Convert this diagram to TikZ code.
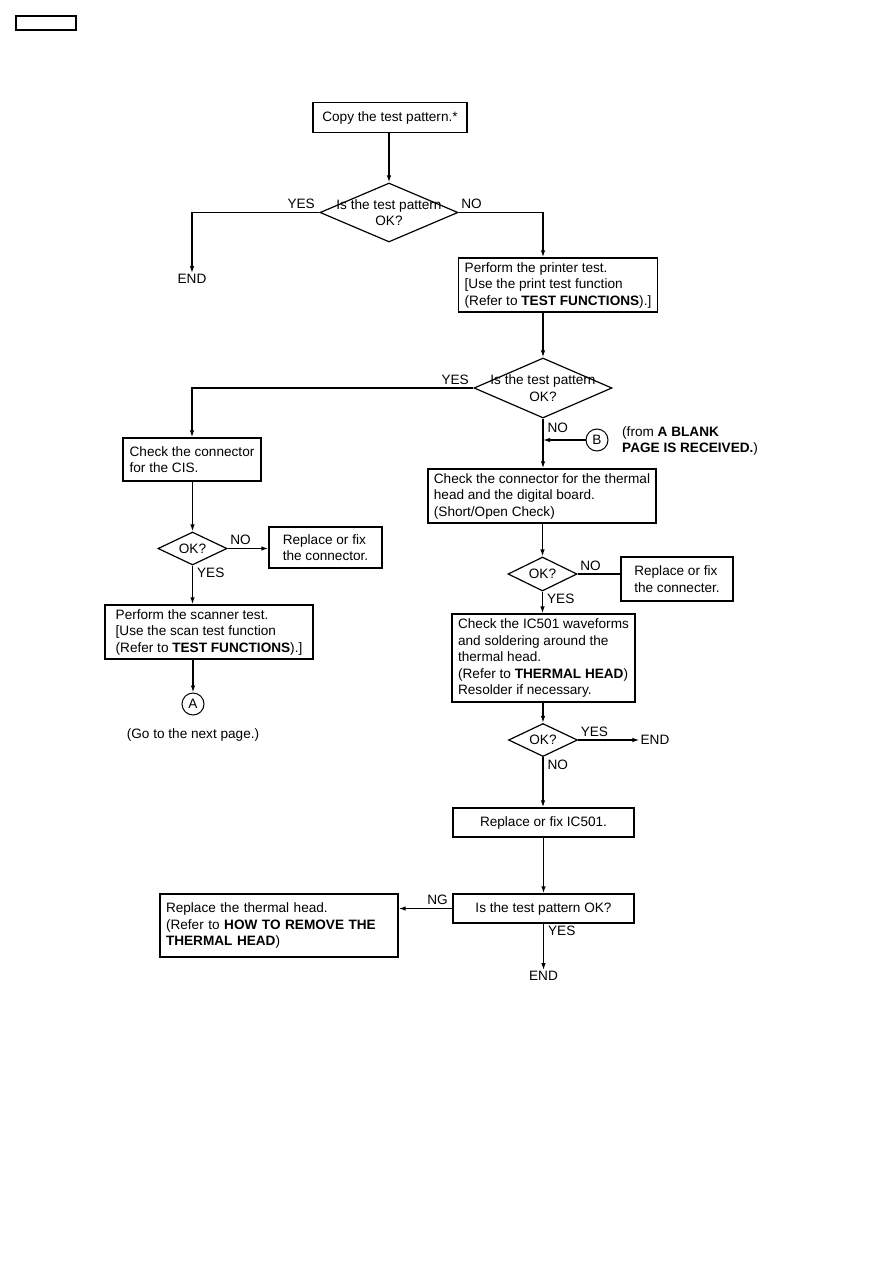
\documentclass[tikz,border=0pt]{standalone}
\usepackage{fontspec}
\setmainfont{Liberation Sans}
\usetikzlibrary{arrows.meta, shapes.geometric}
\newcommand{\flowfont}{\fontsize{13.6}{16.5}\selectfont}
\tikzset{
  procbox/.style={draw, line width=1.3pt, align=left, inner xsep=6pt, inner ysep=3pt, font=\flowfont},
  midbox/.style={draw, line width=1.3pt, align=center, inner sep=3pt, font=\flowfont},
  decision/.style={draw, diamond, line width=1.2pt, inner sep=0pt},
  pagelink/.style={draw, circle, line width=1pt, minimum size=22pt, inner sep=0pt, font=\flowfont},
  lbl/.style={inner sep=1pt, font=\flowfont, align=center},
  arrow/.style={-{Latex[length=7pt, width=4.5pt]}, line width=1.3pt},
  plainline/.style={line width=1.3pt}
}
\begin{document}
\begin{tikzpicture}[x=1pt, y=-1pt]
\useasboundingbox (0,0) rectangle (893,1263);

\node[draw, line width=1.3pt, minimum width=60pt, minimum height=14pt] (pagetag) at (46,23) {};

% top of the flow
\node[midbox, minimum width=154pt, minimum height=30pt] (copy) at (390,117.5) {Copy the test pattern.*};
\node[decision, minimum width=138pt, minimum height=59pt,
  label={[lbl]center:Is the test pattern\\OK?}] (q1) at (389,212.5) {};
\node[lbl] (end1) at (192,279) {END};
\node[procbox, minimum width=198pt, minimum height=54pt] (print) at (558,285)
  {Perform the printer test.\\{[}Use the print test function\\(Refer to \textbf{TEST FUNCTIONS}).]};
\node[decision, minimum width=138pt, minimum height=60pt,
  label={[lbl]center:Is the test pattern\\OK?}] (q2) at (543,388) {};

% left branch (CIS)
\node[procbox, minimum width=138pt, minimum height=43pt] (cis) at (192,459.5) {Check the connector\\for the CIS.};
\node[decision, minimum width=69pt, minimum height=33pt,
  label={[lbl]center:OK?}] (qcis) at (192.5,548.5) {};
\node[procbox, minimum width=113pt, minimum height=41pt] (fixcon) at (325.5,547.5) {Replace or fix\\the connector.};
\node[procbox, minimum width=208pt, minimum height=54pt] (scan) at (209,632)
  {Perform the scanner test.\\{[}Use the scan test function\\(Refer to \textbf{TEST FUNCTIONS}).]};
\node[pagelink] (linkA) at (193,704) {A};
\node[lbl] (gonext) at (193,735) {(Go to the next page.)};

% right branch (thermal head)
\node[pagelink] (linkB) at (597,440) {B};
\node[lbl, anchor=west, align=left] (fromB) at (621,441) {(from \textbf{A BLANK}\\\textbf{PAGE IS RECEIVED.})};
\node[procbox, minimum width=226pt, minimum height=54pt] (thermcon) at (542,496)
  {Check the connector for the thermal\\head and the digital board.\\(Short/Open Check)};
\node[decision, minimum width=69pt, minimum height=34pt,
  label={[lbl]center:OK?}] (q3) at (542.5,574) {};
\node[procbox, minimum width=112pt, minimum height=44pt] (fixcon2) at (677,579) {Replace or fix\\the connecter.};
\node[procbox, minimum width=181pt, minimum height=88pt] (icwave) at (543.5,658)
  {Check the IC501 waveforms\\and soldering around the\\thermal head.\\(Refer to \textbf{THERMAL HEAD})\\Resolder if necessary.};
\node[decision, minimum width=69pt, minimum height=33pt,
  label={[lbl]center:OK?}] (q4) at (543,740) {};
\node[lbl] (end2) at (655,740) {END};
\node[midbox, minimum width=181pt, minimum height=29pt] (fixic) at (543.5,822.5) {Replace or fix IC501.};
\node[midbox, minimum width=181pt, minimum height=29pt] (qok) at (543.5,908.5) {Is the test pattern OK?};
\node[procbox, text width=226pt, minimum height=63pt] (head) at (279,925.5)
  {Replace the thermal head.\\(Refer to \textbf{HOW TO REMOVE THE}\\\textbf{THERMAL HEAD})};
\node[lbl] (end3) at (543.5,976) {END};

% connectors
\draw[arrow] (q1.north |- copy.south) -- (q1.north);
\draw[arrow] (q1.west) node[lbl, anchor=south east, xshift=-3pt, yshift=2pt]{YES} -| (end1.north);
\draw[arrow] (q1.east) node[lbl, anchor=south west, xshift=1pt, yshift=2pt]{NO} -| (q2.north |- print.north);
\draw[arrow] (q2.north |- print.south) -- (q2.north);
\draw[arrow] (q2.west) node[lbl, anchor=south east, xshift=-3pt, yshift=2pt]{YES} -| (cis.north);
\draw[arrow] (q2.south) node[lbl, anchor=north west, xshift=3pt, yshift=-3pt]{NO} -- (q2.south |- thermcon.north);
\draw[arrow] (linkB.west) -- (q2.south |- linkB.west);
\draw[arrow] (q3.north |- thermcon.south) -- (q3.north);
\draw[arrow] (cis.south -| qcis.north) -- (qcis.north);
\draw[arrow] (qcis.east) node[lbl, anchor=south west, xshift=1pt, yshift=2pt]{NO} -- (qcis.east -| fixcon.west);
\draw[arrow] (qcis.south) node[lbl, anchor=north west, xshift=3pt, yshift=-1pt]{YES} -- (qcis.south |- scan.north);
\draw[arrow] (linkA.north |- scan.south) -- (linkA.north);
\draw[plainline] (q3.east) node[lbl, anchor=south west, xshift=1pt, yshift=2pt]{NO} -- (q3.east -| fixcon2.west);
\draw[arrow] (q3.south) node[lbl, anchor=north west, xshift=3pt, yshift=-1pt]{YES} -- (q3.south |- icwave.north);
\draw[arrow] (q4.north |- icwave.south) -- (q4.north);
\draw[arrow] (q4.east) node[lbl, anchor=south west, xshift=1pt, yshift=2pt]{YES} -- (end2.west);
\draw[arrow] (q4.south) node[lbl, anchor=north west, xshift=3pt, yshift=-1pt]{NO} -- (q4.south |- fixic.north);
\draw[arrow] (fixic.south) -- (qok.north);
\draw[arrow] (qok.west) node[lbl, anchor=south east, xshift=-3pt, yshift=2pt]{NG} -- (qok.west -| head.east);
\draw[arrow] (qok.south) node[lbl, anchor=north west, xshift=3pt, yshift=-1pt]{YES} -- (end3.north);
\end{tikzpicture}
\end{document}
